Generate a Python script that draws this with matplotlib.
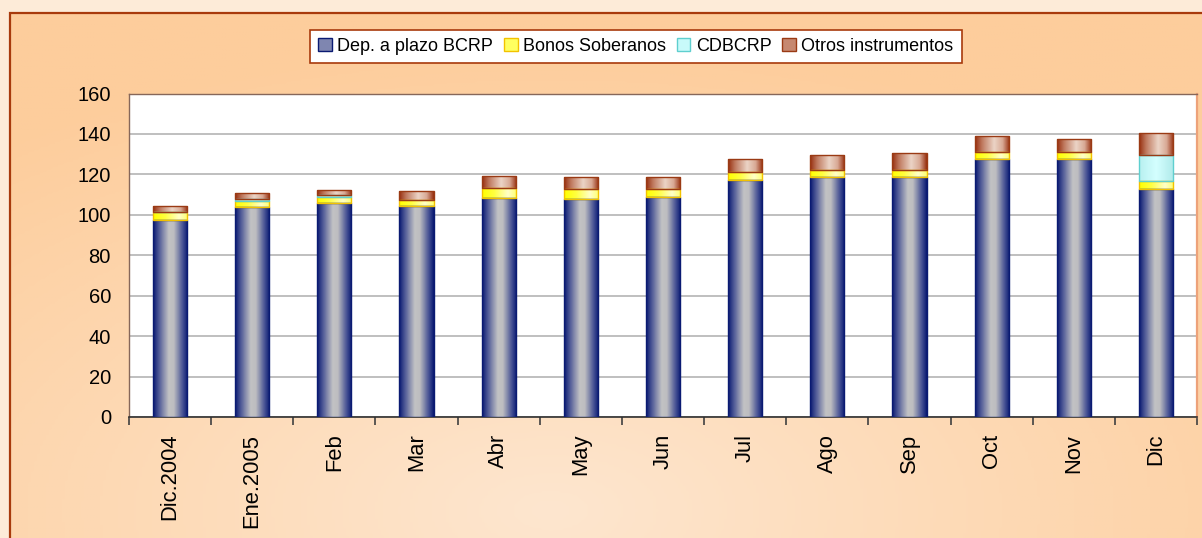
import numpy as np
import matplotlib
matplotlib.use('Agg')
import matplotlib.pyplot as plt
from matplotlib.colors import LinearSegmentedColormap
from matplotlib.patches import Rectangle, Patch

plt.rcParams['font.family'] = ['Liberation Sans', 'DejaVu Sans']

meses = ['Dic.2004', 'Ene.2005', 'Feb', 'Mar', 'Abr', 'May', 'Jun',
         'Jul', 'Ago', 'Sep', 'Oct', 'Nov', 'Dic']
dep_bcrp = [97.2, 103.9, 105.6, 104.3, 108.3, 107.8, 109.0, 117.0, 118.5, 118.7, 127.5, 127.6, 112.9]
bonos = [4.0, 3.1, 3.0, 3.0, 4.8, 5.0, 3.8, 4.0, 3.8, 3.6, 3.6, 3.7, 3.6]
cdbcrp = [0.3, 1.0, 1.0, 0, 0, 0, 0, 0, 0, 0, 0, 0, 12.9]
otros = [3.0, 2.8, 2.8, 4.3, 6.3, 5.9, 6.1, 6.8, 7.1, 8.1, 8.1, 6.2, 11.1]

W, H = 1202, 538
fig = plt.figure(figsize=(W/100, H/100), dpi=100)
fig.patch.set_facecolor('#FDEBD8')

# fondo degradado del area del grafico
bg = fig.add_axes([10/W, 0, 1.0, (H-13)/H], zorder=0)
bg.set_axis_off()
yy, xx = np.mgrid[0:1:200j, 0:1:400j]
r = np.sqrt(((xx-0.45)/0.75)**2 + ((yy-0.05)/0.9)**2)
r = np.clip(r, 0, 1)
cm_bg = LinearSegmentedColormap.from_list('bg', ['#FEE6CF', '#FDD9B4', '#FDCD9C'])
bg.imshow(r, cmap=cm_bg, extent=(0, 1, 0, 1), origin='lower', aspect='auto')
bg.set_xlim(0, 1)
bg.set_ylim(0, 1)
fig.patches.append(Rectangle((10/W, -0.1), 1.2, (H-13)/H + 0.1, transform=fig.transFigure,
                             facecolor='none', edgecolor='#A83A0C', linewidth=1.6, zorder=1))

ax = fig.add_axes([129/W, (H-417)/H, (1197-129)/W, (417-93.5)/H], zorder=2)
ax.set_facecolor('white')

cm_dep = LinearSegmentedColormap.from_list('dep', [(0, '#0A1A72'), (0.18, '#56609A'), (0.45, '#C2C2C4'),
                                                    (0.6, '#BDBDC0'), (0.85, '#4A5596'), (1, '#0A1A72')])
cm_bon = LinearSegmentedColormap.from_list('bon', [(0, '#FFFF00'), (0.35, '#FFFF40'), (0.75, '#FFFFC8'), (1, '#FFFF70')])
cm_cdb = LinearSegmentedColormap.from_list('cdb', [(0, '#B8F0F0'), (0.5, '#D4FFFF'), (1, '#B0EAEA')])
cm_otr = LinearSegmentedColormap.from_list('otr', [(0, '#973010'), (0.2, '#C07A60'), (0.55, '#EBD4C6'),
                                                    (0.8, '#D8A894'), (1, '#973010')])

x = np.arange(len(meses))
bw = 0.415
grad = np.linspace(0, 1, 64).reshape(1, -1)
series = [
    (dep_bcrp, cm_dep, '#0A1A72', 'Dep. a plazo BCRP', '#7F86B0'),
    (bonos, cm_bon, '#F2C200', 'Bonos Soberanos', '#FFFF60'),
    (cdbcrp, cm_cdb, '#5FCFCF', 'CDBCRP', '#C8FAFA'),
    (otros, cm_otr, '#9A3A14', 'Otros instrumentos', '#C68870'),
]
bottom = np.zeros(len(meses))
handles = []
for vals, cmap, ec, lab, mid in series:
    vals = np.array(vals, dtype=float)
    bars = ax.bar(x, vals, bw, bottom=bottom, facecolor='none', edgecolor=ec, linewidth=1.0, zorder=4)
    for b, v in zip(bars, vals):
        if v <= 0:
            b.set_visible(False)
            continue
        im = ax.imshow(grad, cmap=cmap, aspect='auto', zorder=3,
                       extent=(b.get_x(), b.get_x()+b.get_width(), b.get_y(), b.get_y()+b.get_height()))
        im.set_clip_path(b)
    bottom += vals
    handles.append(Patch(facecolor=mid, edgecolor=ec, linewidth=1.0, label=lab))

ax.set_xlim(-0.5, len(meses)-0.5)
ax.set_ylim(0, 160)
ax.set_yticks(range(0, 161, 20))
ax.yaxis.grid(True, color='#B4B4B4', linewidth=1.2)
ax.set_axisbelow(True)
ax.tick_params(axis='y', length=0, pad=13, labelsize=14.5)

ax.set_xticks(np.arange(-0.5, len(meses), 1.0))
ax.set_xticklabels([])
ax.tick_params(axis='x', which='major', length=6, width=1.2, color='#404040')
ax.set_xticks(x, minor=True)
ax.set_xticklabels(meses, minor=True, rotation=90, fontsize=15.8)
ax.tick_params(axis='x', which='minor', length=0, pad=12)

for s in ['left', 'top']:
    ax.spines[s].set_color('#86675A')
    ax.spines[s].set_linewidth(1.0)
ax.spines['bottom'].set_color('#303030')
ax.spines['bottom'].set_linewidth(1.2)
ax.spines['right'].set_color('#EDA27A')
ax.spines['right'].set_linewidth(1.6)

leg = fig.legend(handles=handles, loc='center', bbox_to_anchor=(636/W, 1-46.5/H), ncol=4,
                 fontsize=13, frameon=True, fancybox=False, handlelength=0.75, handleheight=0.75,
                 handletextpad=0.3, columnspacing=0.6, borderpad=0.45, borderaxespad=0)
leg.get_frame().set_edgecolor('#A83A0C')
leg.get_frame().set_linewidth(1.2)
leg.get_frame().set_facecolor('white')
leg.get_frame().set_alpha(1)
leg.set_zorder(5)

fig.savefig('out.png', dpi=100, facecolor=fig.get_facecolor())
